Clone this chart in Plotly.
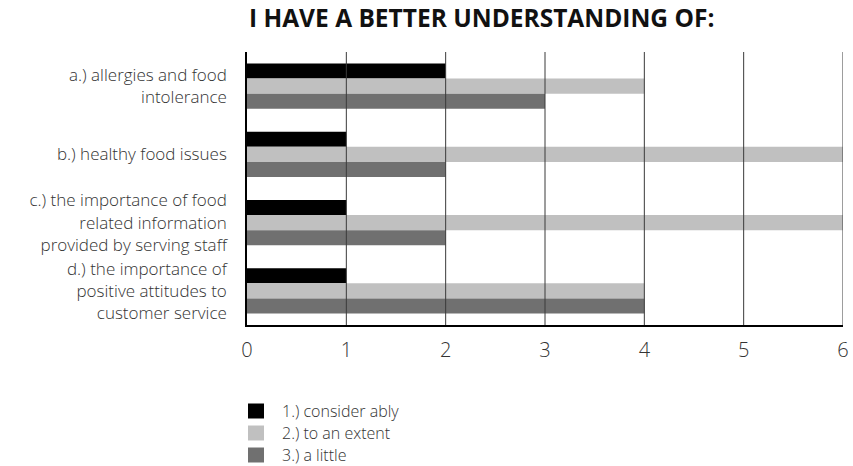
import plotly.graph_objects as go

categories = ["a.) allergies and food<br>intolerance",
              "b.) healthy food issues",
              "c.) the importance of food<br>related information<br>provided by serving staff",
              "d.) the importance of<br>positive attitudes to<br>customer service"]
series_names = ["1.) consider ably", "2.) to an extent", "3.) a little"]
considerably = [2, 1, 1, 1]
to_an_extent = [4, 6, 6, 4]
a_little = [3, 2, 2, 4]
x_ticks = [0, 1, 2, 3, 4, 5, 6]
title_text = "I HAVE A BETTER UNDERSTANDING OF:"

colors = ["#000000", "#c0c0c0", "#707070"]
FONT = "Open Sans"
TXT = "#333333"
W, H = 853, 466
ML, MR, MT, MB = 247, 10, 52, 141
PW, PH = W - ML - MR, H - MT - MB


def px(xp):
    return (xp - ML) / PW


def py(yp):
    return 1 - (yp - MT) / PH


fig = go.Figure()
for name, vals, col in zip(series_names, [considerably, to_an_extent, a_little], colors):
    fig.add_trace(go.Bar(y=categories, x=vals, name=name, orientation="h",
                         marker=dict(color=col, line=dict(width=0))))

# vertical gridlines drawn above the bars
for t in x_ticks[1:]:
    fig.add_shape(type="line", xref="x", yref="paper", x0=t, x1=t, y0=0, y1=1,
                  line=dict(color="#3a3a3a", width=1), layer="above")

annotations = [dict(text="<b>" + title_text + "</b>",
                    x=px(481), y=py(17), xref="paper", yref="paper",
                    xanchor="center", yanchor="middle", showarrow=False,
                    font=dict(family=FONT, size=24.5, color="#111111"))]
# manual legend
for i, (name, col) in enumerate(zip(series_names, colors)):
    yc = 411 + i * 22
    fig.add_shape(type="rect", xref="paper", yref="paper",
                  x0=px(248), x1=px(264), y0=py(yc - 7.5), y1=py(yc + 7.5),
                  fillcolor=col, line=dict(width=0))
    annotations.append(dict(text=name, x=px(281), y=py(yc), xref="paper", yref="paper",
                            xanchor="left", yanchor="middle", showarrow=False,
                            borderpad=0,
                            font=dict(family=FONT, size=16, color=TXT, weight=300)))

fig.update_layout(
    width=W, height=H,
    margin=dict(l=ML, r=MR, t=MT, b=MB, autoexpand=False),
    paper_bgcolor="white", plot_bgcolor="white",
    barmode="group", bargap=0.34, bargroupgap=0,
    font=dict(family=FONT, color=TXT, size=17, weight=300),
    showlegend=False,
    annotations=annotations,
)
fig.update_xaxes(range=[0, 6], tickvals=x_ticks, showgrid=False, zeroline=False,
                 showline=True, linecolor="#000000", linewidth=1.5,
                 ticks="", tickfont=dict(size=20, color=TXT, weight=300),
                 ticklabelstandoff=6)
fig.update_yaxes(autorange="reversed", showgrid=False, showline=True,
                 linecolor="#000000", linewidth=1.5, ticks="",
                 tickfont=dict(size=17, color=TXT, weight=300),
                 ticklabelstandoff=15)

fig.write_html("out.html")
